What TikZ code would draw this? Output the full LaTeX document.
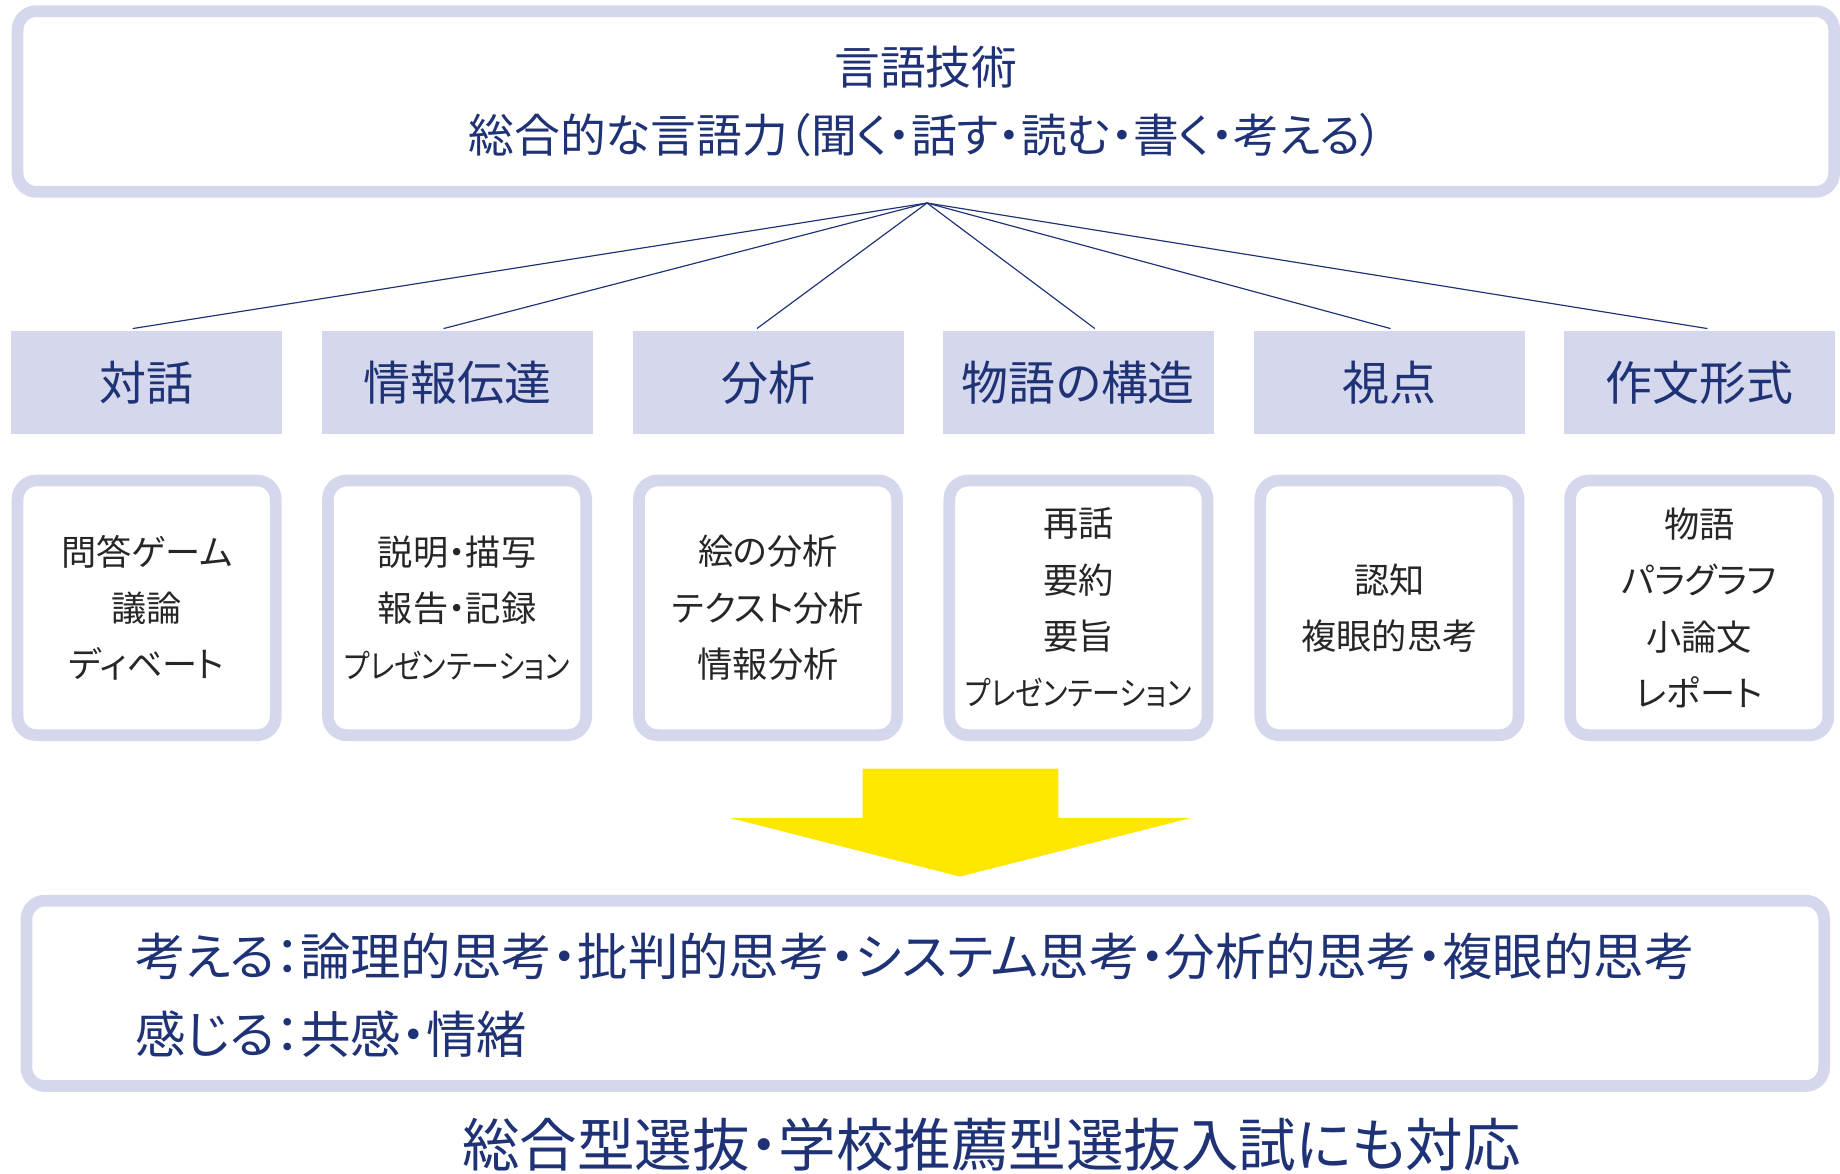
\documentclass[tikz,border=0pt]{standalone}
\usepackage{fontspec}
\setmainfont[RawFeature=+palt]{Noto Sans CJK JP}
\definecolor{lav}{HTML}{D5D8EC}
\definecolor{navy}{HTML}{1E3275}
\definecolor{ylw}{HTML}{FFE800}
\newcommand{\presen}{{\fontsize{14}{24}\selectfont\scalebox{0.85}[1]{プレゼンテーション}}}
\begin{document}
\begin{tikzpicture}[x=0.5pt,y=-0.5pt,
 frame/.style={draw=lav,line width=5pt,rounded corners=8pt},
 cat/.style={fill=lav,draw=none,minimum width=115.5pt,minimum height=44pt,text=navy,font=\fontsize{20}{24}\selectfont},
 cont/.style={draw=lav,line width=5pt,rounded corners=8pt,text width=106pt,inner sep=2pt,minimum height=108.5pt,align=center,text=black!85,font=\fontsize{15}{24}\selectfont},
 conn/.style={draw=navy,line width=0.5pt}]
\useasboundingbox (0,0) rectangle (1568,1000);
\node[frame,minimum width=774pt,minimum height=77pt,align=center,text=navy,font=\fontsize{19.5}{29}\selectfont] (top) at (789,86.5) {言語技術\\総合的な言語力（聞く・話す・読む・書く・考える）};
\coordinate (hub) at (790,173);
\foreach \n/\x/\t in {a/125/対話,b/389.5/情報伝達,c/654.5/分析,d/919/物語の構造,e/1184/視点,f/1448/作文形式}{
  \node[cat] (\n) at (\x,326) {\t};
}
\foreach \n/\x in {a/113,b/378,c/645,d/933,e/1185,f/1455}{
  \draw[conn] (hub) -- (\x,280);
}
\node[cont] (ca) at (125,518) {問答ゲーム\\議論\\ディベート};
\node[cont] (cb) at (389.5,518) {説明・描写\\報告・記録\\\presen};
\node[cont] (cc) at (654.5,518) {絵の分析\\テクスト分析\\情報分析};
\node[cont] (cd) at (919,518) {再話\\要約\\要旨\\\presen};
\node[cont] (ce) at (1184,518) {認知\\複眼的思考};
\node[cont] (cf) at (1448,518) {物語\\パラグラフ\\小論文\\レポート};
\fill[ylw] (735,655) -- (902,655) -- (902,697) -- (1015,697) -- (818,747) -- (622,697) -- (735,697) -- cycle;
\node[frame,minimum width=766pt,minimum height=79pt] (bot) at (788.5,846.5) {};
\node[anchor=west,text=navy,font=\fontsize{21.5}{33}\selectfont,align=left] (bt) at (108,848) {考える：論理的思考・批判的思考・システム思考・分析的思考・複眼的思考\\感じる：共感・情緒};
\node[text=navy,font=\fontsize{24.5}{28}\selectfont] (fin) at (845,975) {総合型選抜・学校推薦型選抜入試にも対応};
\end{tikzpicture}
\end{document}
